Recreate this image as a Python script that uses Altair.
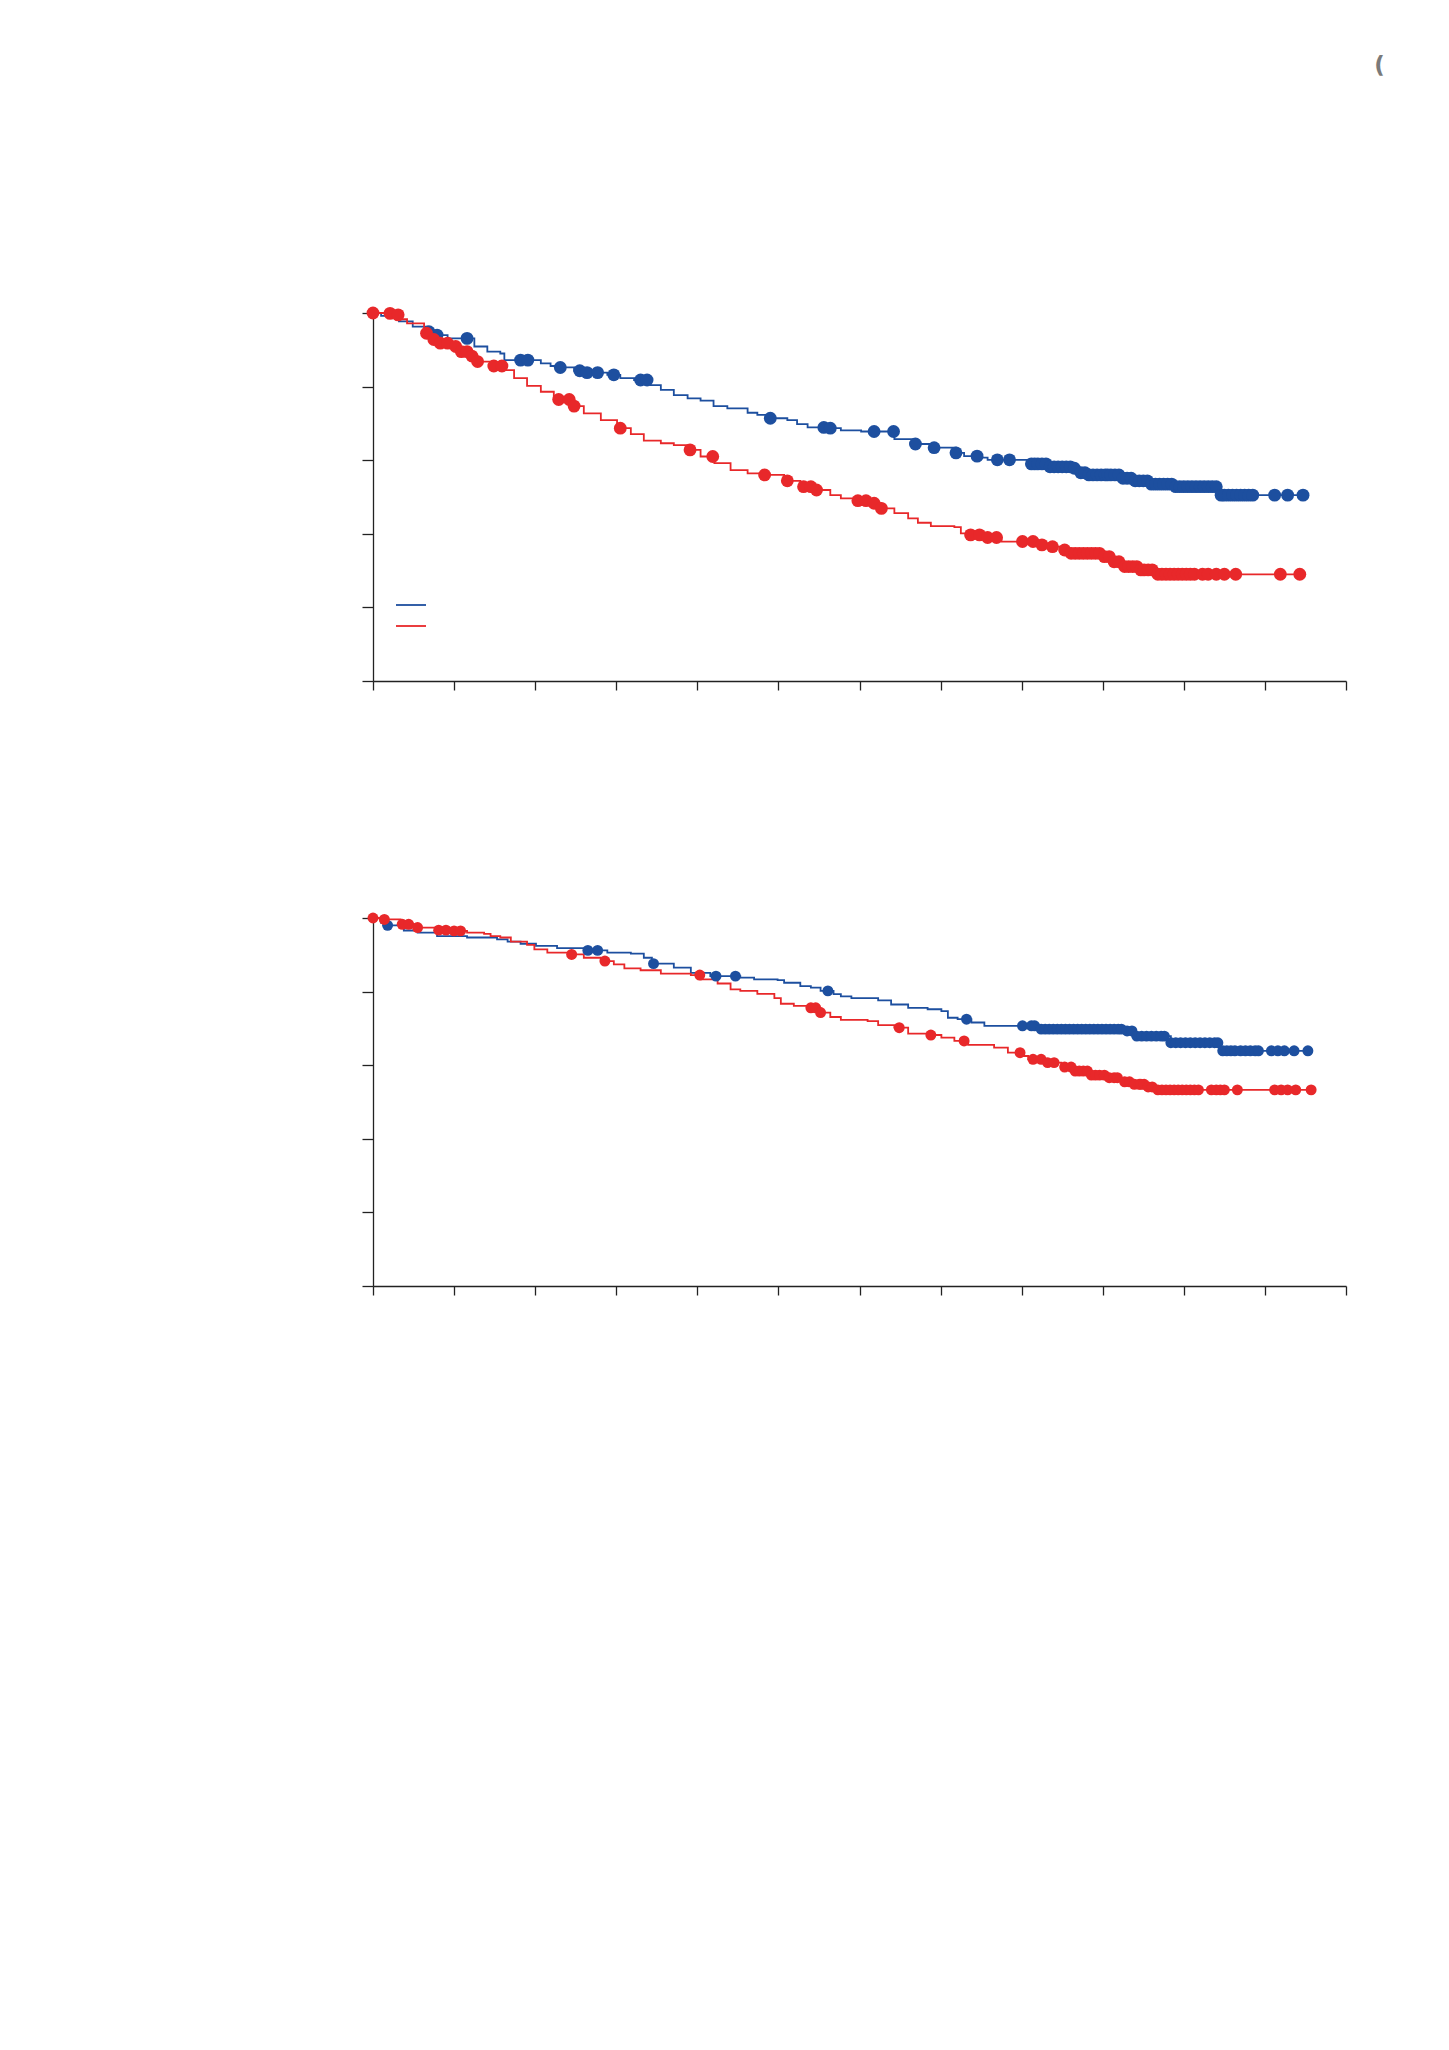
import altair as alt
import pandas as pd

# ---------------- data (x in axis-tick units 0..12, y = survival proportion) -------------
# Panel 1 - blue group: step times and survival after each step
p1_blue_t = [0, 0.10, 0.32, 0.49, 0.67, 0.79, 0.92, 1.25, 1.41, 1.57, 1.62, 2.07, 2.19, 2.31,
             2.48, 2.64, 2.89, 3.05, 3.22, 3.42, 3.55, 3.71, 3.88, 4.04, 4.20, 4.37, 4.62, 4.74,
             4.90, 5.11, 5.23, 5.36, 5.60, 5.77, 6.02, 6.43, 6.68, 6.92, 7.19, 7.29, 7.46, 7.58,
             8.12, 8.32, 8.65, 8.73, 8.82, 9.23, 9.39, 9.56, 9.88, 10.46]
p1_blue_s = [1.0, 0.992, 0.977, 0.963, 0.949, 0.940, 0.931, 0.909, 0.895, 0.890, 0.872, 0.863,
             0.856, 0.852, 0.843, 0.838, 0.832, 0.823, 0.818, 0.804, 0.791, 0.777, 0.768, 0.762,
             0.747, 0.741, 0.729, 0.723, 0.714, 0.709, 0.698, 0.689, 0.687, 0.681, 0.678, 0.657,
             0.644, 0.634, 0.620, 0.611, 0.607, 0.601, 0.590, 0.582, 0.578, 0.566, 0.560, 0.551,
             0.544, 0.535, 0.528, 0.505]
p1_blue_cens = [0.69, 0.79, 1.16, 1.82, 1.91, 2.31, 2.55, 2.64, 2.77, 2.97, 3.30, 3.38, 4.90,
                5.56, 5.64, 6.18, 6.42, 6.69, 6.92, 7.19, 7.45, 7.70, 7.85, 8.12, 8.16, 8.20,
                8.25, 8.30, 8.35, 8.40, 8.45, 8.50, 8.55, 8.60, 8.65, 8.73, 8.78, 8.83, 8.88,
                8.93, 8.98, 9.03, 9.06, 9.10, 9.15, 9.20, 9.25, 9.30, 9.35, 9.40, 9.45, 9.50,
                9.55, 9.60, 9.65, 9.70, 9.75, 9.80, 9.85, 9.90, 9.95, 10.00, 10.05, 10.10,
                10.15, 10.20, 10.25, 10.30, 10.35, 10.40, 10.46, 10.50, 10.55, 10.60, 10.65,
                10.70, 10.75, 10.80, 10.85, 11.12, 11.28, 11.47]

# Panel 1 - red group
p1_red_t = [0, 0.14, 0.22, 0.32, 0.42, 0.63, 0.75, 0.83, 1.00, 1.08, 1.20, 1.29, 1.49, 1.62,
            1.74, 1.90, 2.07, 2.23, 2.48, 2.60, 2.81, 3.01, 3.18, 3.34, 3.55, 3.71, 3.88, 4.04,
            4.21, 4.41, 4.62, 4.82, 5.07, 5.27, 5.44, 5.64, 5.77, 5.98, 6.10, 6.27, 6.43, 6.60,
            6.72, 6.88, 7.17, 7.25, 7.37, 7.50, 7.75, 8.16, 8.32, 8.49, 8.61, 8.98, 9.14, 9.27,
            9.47, 9.64]
p1_red_s = [1.0, 0.999, 0.995, 0.983, 0.972, 0.945, 0.928, 0.918, 0.909, 0.895, 0.883, 0.868,
            0.856, 0.845, 0.823, 0.802, 0.786, 0.765, 0.747, 0.727, 0.709, 0.687, 0.671, 0.653,
            0.646, 0.641, 0.628, 0.610, 0.592, 0.573, 0.564, 0.560, 0.544, 0.528, 0.519, 0.505,
            0.496, 0.490, 0.483, 0.469, 0.456, 0.442, 0.430, 0.421, 0.418, 0.401, 0.397, 0.390,
            0.379, 0.370, 0.365, 0.356, 0.347, 0.338, 0.324, 0.311, 0.302, 0.290]
p1_red_cens = [0.0, 0.21, 0.31, 0.66, 0.75, 0.83, 0.92, 1.02, 1.09, 1.16, 1.22, 1.29, 1.49,
               1.59, 2.29, 2.42, 2.48, 3.05, 3.91, 4.19, 4.83, 5.11, 5.31, 5.40, 5.47, 5.98,
               6.08, 6.18, 6.27, 7.37, 7.48, 7.58, 7.69, 8.01, 8.14, 8.25, 8.38, 8.53, 8.61,
               8.66, 8.71, 8.76, 8.81, 8.86, 8.91, 8.96, 9.02, 9.08, 9.14, 9.20, 9.27, 9.32,
               9.37, 9.42, 9.47, 9.51, 9.56, 9.61, 9.68, 9.73, 9.78, 9.83, 9.88, 9.93, 9.98,
               10.03, 10.08, 10.13, 10.23, 10.30, 10.40, 10.50, 10.64, 11.19, 11.43]

# Panel 2 - blue group
p2_blue_t = [0, 0.10, 0.18, 0.38, 0.55, 0.79, 1.16, 1.53, 1.66, 1.82, 2.01, 2.27, 2.60, 2.89,
             3.18, 3.34, 3.44, 3.71, 3.92, 4.16, 4.53, 4.70, 4.99, 5.07, 5.27, 5.40, 5.52, 5.68,
             5.77, 5.90, 6.23, 6.39, 6.60, 6.84, 7.01, 7.09, 7.21, 7.38, 7.54, 8.24, 9.27, 9.39,
             9.84, 10.46]
p2_blue_s = [1.0, 0.987, 0.980, 0.966, 0.960, 0.951, 0.947, 0.942, 0.936, 0.930, 0.924, 0.918,
             0.912, 0.906, 0.903, 0.892, 0.876, 0.865, 0.851, 0.842, 0.838, 0.833, 0.831, 0.824,
             0.815, 0.811, 0.802, 0.793, 0.787, 0.782, 0.776, 0.765, 0.756, 0.752, 0.747, 0.729,
             0.725, 0.716, 0.707, 0.698, 0.693, 0.679, 0.661, 0.639]
p2_blue_cens = [0.18, 2.65, 2.77, 3.46, 4.23, 4.47, 5.61, 7.32, 8.01, 8.12, 8.16, 8.24, 8.29,
                8.34, 8.39, 8.44, 8.49, 8.54, 8.59, 8.64, 8.69, 8.74, 8.79, 8.84, 8.89, 8.94,
                8.99, 9.04, 9.09, 9.14, 9.19, 9.23, 9.30, 9.36, 9.42, 9.48, 9.54, 9.60, 9.66,
                9.72, 9.76, 9.84, 9.90, 9.96, 10.02, 10.08, 10.14, 10.20, 10.26, 10.32, 10.38,
                10.42, 10.48, 10.53, 10.58, 10.63, 10.70, 10.76, 10.82, 10.88, 10.92, 11.08,
                11.16, 11.24, 11.36, 11.53]

# Panel 2 - red group
p2_red_t = [0, 0.14, 0.34, 0.55, 0.79, 0.96, 1.16, 1.37, 1.45, 1.57, 1.70, 1.90, 1.99, 2.15,
            2.44, 2.60, 2.81, 2.97, 3.10, 3.30, 3.55, 3.92, 4.04, 4.25, 4.41, 4.53, 4.74, 4.95,
            5.03, 5.19, 5.36, 5.52, 5.64, 5.77, 6.10, 6.23, 6.43, 6.60, 6.84, 7.01, 7.17, 7.34,
            7.66, 7.83, 7.99, 8.08, 8.32, 8.49, 8.65, 8.82, 9.06, 9.23, 9.35, 9.56, 9.68]
p2_red_s = [1.0, 0.996, 0.983, 0.974, 0.967, 0.965, 0.960, 0.957, 0.951, 0.947, 0.936, 0.927,
            0.915, 0.906, 0.901, 0.892, 0.883, 0.874, 0.863, 0.858, 0.849, 0.845, 0.833, 0.822,
            0.806, 0.802, 0.794, 0.782, 0.767, 0.761, 0.756, 0.743, 0.731, 0.723, 0.720, 0.709,
            0.702, 0.686, 0.682, 0.675, 0.666, 0.655, 0.648, 0.634, 0.625, 0.616, 0.607, 0.595,
            0.584, 0.573, 0.566, 0.555, 0.548, 0.541, 0.533]
p2_red_cens = [0.0, 0.14, 0.36, 0.44, 0.55, 0.81, 0.90, 1.00, 1.08, 2.45, 2.86, 4.03, 5.40,
               5.46, 5.52, 6.49, 6.88, 7.29, 7.98, 8.14, 8.24, 8.32, 8.40, 8.53, 8.61, 8.66,
               8.71, 8.76, 8.81, 8.86, 8.91, 8.96, 9.02, 9.08, 9.14, 9.18, 9.27, 9.33, 9.39,
               9.45, 9.47, 9.51, 9.56, 9.61, 9.68, 9.73, 9.78, 9.83, 9.88, 9.93, 9.98, 10.03,
               10.08, 10.13, 10.18, 10.34, 10.40, 10.45, 10.50, 10.66, 11.12, 11.20, 11.28,
               11.38, 11.57]

groups = ["Blue group", "Red group"]
x_ticks = [0, 1, 2, 3, 4, 5, 6, 7, 8, 9, 10, 11, 12]
y_ticks = [0, 0.2, 0.4, 0.6, 0.8, 1.0]

BLUE = "#1d4f9f"
RED = "#e8282a"
palette = {groups[0]: BLUE, groups[1]: RED}


def surv_at(ts, ss, t):
    v = ss[0]
    for ti, si in zip(ts, ss):
        if ti <= t + 1e-9:
            v = si
    return v


def curve_df(ts, ss, cens, g):
    end = max(cens)
    rows = [{"t": a, "s": b, "group": g, "col": palette[g]} for a, b in zip(ts, ss)]
    rows.append({"t": end, "s": ss[-1], "group": g, "col": palette[g]})
    return rows


def cens_df(ts, ss, cens, g):
    return [{"t": c, "s": surv_at(ts, ss, c), "group": g, "col": palette[g]} for c in cens]


def panel(bt, bs, bc, rt, rs, rc, dot, with_legend):
    lines = pd.DataFrame(curve_df(bt, bs, bc, groups[0]) + curve_df(rt, rs, rc, groups[1]))
    pts = pd.DataFrame(cens_df(bt, bs, bc, groups[0]) + cens_df(rt, rs, rc, groups[1]))
    x = alt.X("t:Q", scale=alt.Scale(domain=[0, 12], nice=False),
              axis=alt.Axis(values=x_ticks, labels=False, title=None, grid=False,
                            tickSize=9, domainColor="#222", tickColor="#222",
                            domainWidth=1.3, tickWidth=1.3))
    y = alt.Y("s:Q", scale=alt.Scale(domain=[0, 1], nice=False),
              axis=alt.Axis(values=y_ticks, labels=False, title=None, grid=False,
                            tickSize=11, domainColor="#222", tickColor="#222",
                            domainWidth=1.3, tickWidth=1.3))
    if with_legend:
        lcol = alt.Color("group:N", scale=alt.Scale(domain=groups, range=[BLUE, RED]),
                         legend=alt.Legend(orient="none", legendX=22, legendY=276, title=None,
                                           symbolType="stroke", symbolSize=900,
                                           symbolStrokeWidth=1.8, labelExpr="''",
                                           rowPadding=-6, padding=0))
    else:
        lcol = alt.Color("col:N", scale=None)
    line = alt.Chart(lines).mark_line(interpolate="step-after", strokeWidth=1.8).encode(
        x=x, y=y, color=lcol, detail="group:N")
    points = alt.Chart(pts).mark_circle(size=dot, opacity=1).encode(
        x="t:Q", y="s:Q", color=alt.Color("col:N", scale=None))
    return alt.layer(line, points).properties(width=973, height=368)


top = panel(p1_blue_t, p1_blue_s, p1_blue_cens, p1_red_t, p1_red_s, p1_red_cens, 165, True)
bottom = panel(p2_blue_t, p2_blue_s, p2_blue_cens, p2_red_t, p2_red_s, p2_red_cens, 120, False)

chart = alt.vconcat(top, bottom, spacing=221).properties(
    title=alt.TitleParams("(", anchor="end", color="#7a7a7a", fontSize=23, fontWeight="bold",
                          font="DejaVu Sans", dx=38, offset=229),
    padding={"left": 353, "top": 46, "right": 40, "bottom": 20},
).configure_view(stroke=None)

chart.save("out.html", embed_options={"renderer": "svg", "actions": False})
